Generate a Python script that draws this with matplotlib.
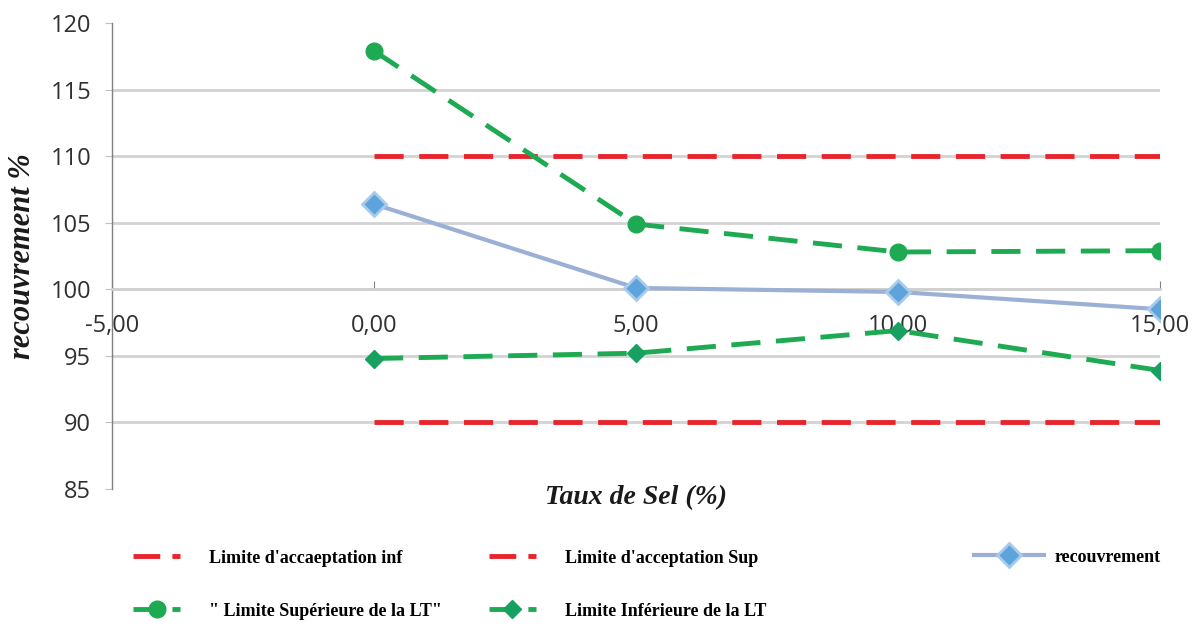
"""
Courbe de recouvrement en fonction du taux de sel
avec limites d'acceptation et limites de tolérance (LT)
"""

import matplotlib
matplotlib.use("Agg")
import matplotlib.pyplot as plt
from matplotlib.ticker import FixedLocator, FuncFormatter

# ============================================
# DONNÉES
# ============================================
taux_sel = [0, 5, 10, 15]
recouvrement = [106.4, 100.1, 99.8, 98.5]
lt_sup = [117.9, 104.9, 102.8, 102.9]
lt_inf = [94.8, 95.2, 96.9, 93.9]
limite_inf = [90, 90, 90, 90]
limite_sup = [110, 110, 110, 110]

x_ticks = [-5, 0, 5, 10, 15]
y_ticks = [85, 90, 95, 100, 105, 110, 115, 120]

# ============================================
# STYLE
# ============================================
plt.rcParams['font.family'] = ['Open Sans', 'DejaVu Sans']

RED = '#E8242C'
GREEN = '#1DAA52'
GREEN_DARK = '#17A060'
BLUE_LINE = '#9AB0D4'
BLUE_MARK = '#5DA4DC'

fig = plt.figure(figsize=(11.99, 6.30), dpi=100)
ax = fig.add_axes([0.0934, 0.2238, 0.8741, 0.7397])

dash = (6, 3.2)

h_inf, = ax.plot(taux_sel, limite_inf, color=RED, lw=3.5, dashes=dash,
                 label="Limite d'accaeptation inf", zorder=3)
h_ltsup, = ax.plot(taux_sel, lt_sup, color=GREEN, lw=3.5, dashes=dash,
                   marker='o', markersize=12, label='" Limite Supérieure de la LT"', zorder=4)
h_sup, = ax.plot(taux_sel, limite_sup, color=RED, lw=3.5, dashes=dash,
                 label="Limite d'acceptation Sup", zorder=3)
h_ltinf, = ax.plot(taux_sel, lt_inf, color=GREEN, lw=3.5, dashes=dash,
                   marker='D', markersize=9, markerfacecolor=GREEN_DARK,
                   markeredgecolor=GREEN_DARK, label='Limite Inférieure de la LT', zorder=4)
h_rec, = ax.plot(taux_sel, recouvrement, color=BLUE_LINE, lw=3,
                 marker='D', markersize=12, markerfacecolor=BLUE_MARK,
                 markeredgecolor='#A9CBEB', markeredgewidth=2,
                 label='recouvrement', zorder=5)

# Axes
ax.set_xlim(-5, 15)
ax.set_ylim(85, 120)
ax.xaxis.set_major_locator(FixedLocator(x_ticks))
ax.yaxis.set_major_locator(FixedLocator(y_ticks))
ax.xaxis.set_major_formatter(FuncFormatter(lambda v, p: f"{v:.2f}".replace('.', ',')))

for s in ['top', 'right']:
    ax.spines[s].set_visible(False)
ax.spines['bottom'].set_position(('data', 100))
ax.spines['bottom'].set_color('#d0d0d0')
ax.spines['bottom'].set_linewidth(2)
ax.spines['left'].set_color('#808080')
ax.spines['left'].set_linewidth(1)

ax.tick_params(axis='x', direction='in', length=6, color='#808080',
               labelsize=17, labelcolor='#303030', pad=18)
ax.tick_params(axis='y', direction='out', length=5, color='#c0c0c0',
               labelsize=17, labelcolor='#303030', pad=10)

# Grille horizontale (sans 85 et 120)
for yv in y_ticks[1:-1]:
    ax.axhline(yv, color='#d3d3d3', lw=2, zorder=1)

ax.set_xlabel('Taux de Sel (%)', family='Liberation Serif', fontsize=20,
              fontweight='bold', style='italic', color='#1a1a1a')
ax.xaxis.set_label_coords(0.5, 0.008)
ax.set_ylabel('recouvrement %', family='Liberation Serif', fontsize=22,
              fontweight='bold', style='italic', color='#1a1a1a')
ax.yaxis.set_label_coords(-0.072, 0.5)

# Légende en bas : deux blocs (4 entrées en 2 colonnes + recouvrement)
leg_prop = {'family': 'Liberation Serif', 'weight': 'bold', 'size': 13}
leg1 = fig.legend(handles=[h_inf, h_ltsup, h_sup, h_ltinf],
                  loc='lower left', bbox_to_anchor=(0.105, 0.005),
                  ncol=2, frameon=False, handlelength=2.6, prop=leg_prop,
                  labelspacing=2.0, borderaxespad=0.0, handletextpad=1.6,
                  columnspacing=2.6)
for ln in leg1.get_lines():
    ln.set_dashes((5.5, 2.5))
leg2 = fig.legend(handles=[h_rec], loc='lower left',
                  bbox_to_anchor=(0.806, 0.0905),
                  frameon=False, handlelength=3.9, prop=leg_prop,
                  borderaxespad=0.0, handletextpad=0.6)

fig.savefig('out.png', dpi=100)
